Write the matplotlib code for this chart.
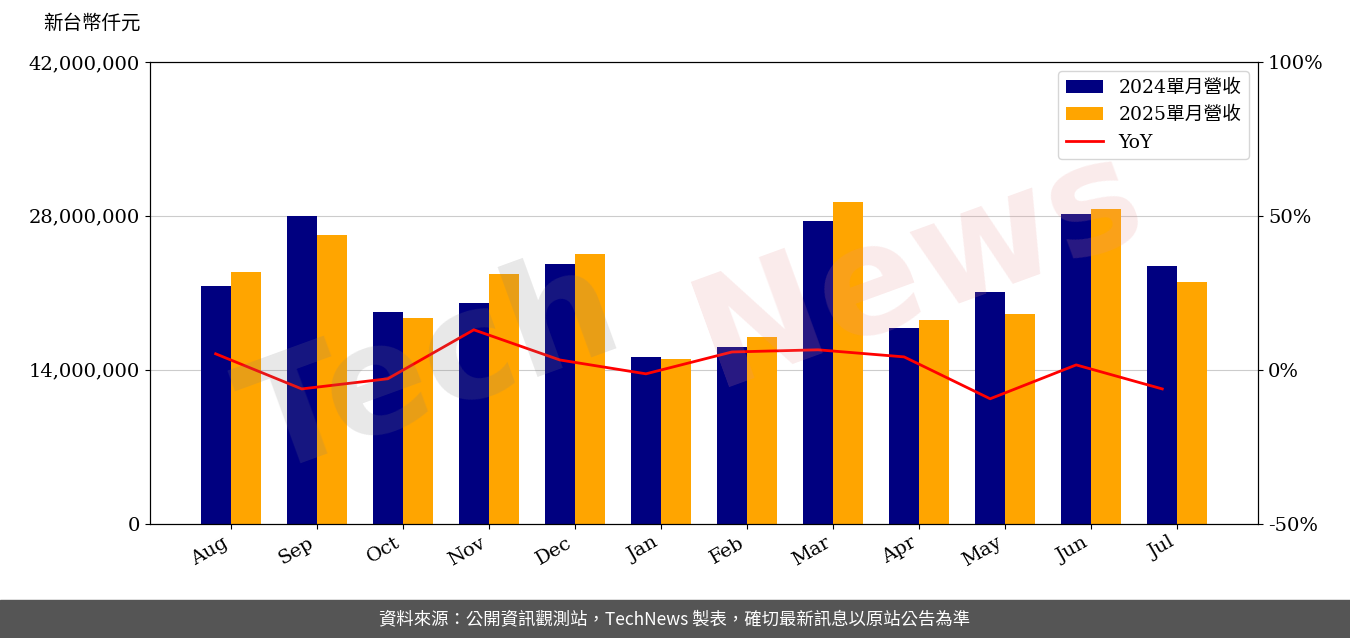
import matplotlib
matplotlib.use("Agg")
import matplotlib.pyplot as plt
import numpy as np
from matplotlib.ticker import FuncFormatter

months = ["Aug","Sep","Oct","Nov","Dec","Jan","Feb","Mar","Apr","May","Jun","Jul"]
rev2024 = [21.6,28.0,19.3,20.1,23.6,15.2,16.1,27.5,17.8,21.1,28.2,23.4]
rev2025 = [22.9,26.3,18.7,22.7,24.5,15.0,17.0,29.3,18.5,19.1,28.6,22.0]
yoy = [5.2,-6.2,-2.9,13.0,3.2,-1.3,5.8,6.5,4.2,-9.4,1.6,-6.2]

fam = ["DejaVu Serif","Noto Sans CJK TC"]
plt.rcParams['font.family'] = fam

fig = plt.figure(figsize=(13.5,6.38), dpi=100)
ax = fig.add_axes([0.111,0.179,0.821,0.724])
x = np.arange(len(months))
w = 0.35
ax.bar(x-w/2, np.array(rev2024)*1e6, w, color="#000080", label="2024單月營收", zorder=2)
ax.bar(x+w/2, np.array(rev2025)*1e6, w, color="#FFA500", label="2025單月營收", zorder=2)
ax.set_ylim(0,42e6)
ax.set_yticks([0,14e6,28e6,42e6])
ax.yaxis.set_major_formatter(FuncFormatter(lambda v,p: f"{int(v):,}"))
ax.grid(axis='y', color='#cccccc', zorder=0)
ax.set_xticks(x)
ax.set_xticklabels(months, rotation=30, ha='right')
ax.set_xlim(-0.94, 11.94)
ax.tick_params(labelsize=14)
ax2 = ax.twinx()
l, = ax2.plot(x-w/2, yoy, color='red', lw=2, label="YoY")
ax2.set_ylim(-50,100)
ax2.set_yticks([-50,0,50,100])
ax2.yaxis.set_major_formatter(FuncFormatter(lambda v,p: f"{int(v)}%"))
ax2.tick_params(labelsize=14)
h1,l1 = ax.get_legend_handles_labels()
ax2.legend(h1+[l], l1+["YoY"], loc='upper right', fontsize=13.5)
fig.text(0.032,0.955,"新台幣仟元", fontsize=14)
fig.text(0.32,0.42,"Tech", fontsize=110, color='gray', alpha=0.18, rotation=20, ha='center', va='center', family="DejaVu Sans", weight='bold')
fig.text(0.68,0.58,"News", fontsize=110, color='#e89090', alpha=0.18, rotation=20, ha='center', va='center', family="DejaVu Sans", weight='bold')
fig.patches.append(plt.Rectangle((0,0),1,0.06, transform=fig.transFigure, color='#555555', zorder=0))
fig.text(0.5,0.03,"資料來源：公開資訊觀測站，TechNews 製表，確切最新訊息以原站公告為準", color='white', ha='center', va='center', fontsize=12.5, family=["Noto Sans CJK TC","DejaVu Sans"])
fig.savefig("out.png")
